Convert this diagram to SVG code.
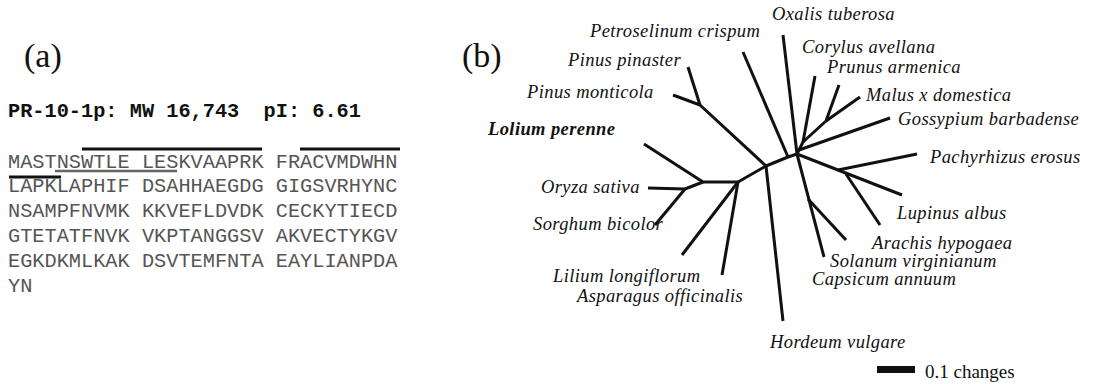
<svg xmlns="http://www.w3.org/2000/svg" width="1097" height="384" viewBox="0 0 1097 384">
<style>
.pl{font-family:"Liberation Serif","Times New Roman",serif;font-size:34px;fill:#111}
.hd{font-family:"Liberation Mono","Courier New",monospace;font-weight:bold;font-size:20.3px;fill:#111}
.sq{font-family:"Liberation Mono","Courier New",monospace;font-size:20.3px;fill:#555}
.lab{font-family:"Liberation Serif","Times New Roman",serif;font-style:italic;font-size:18.5px;letter-spacing:0.4px;fill:#111}
.bold{font-weight:bold}
.sc{font-family:"Liberation Serif","Times New Roman",serif;font-size:19px;fill:#111}
.br{stroke:#111;stroke-width:3;fill:none;stroke-linecap:butt;stroke-linejoin:round}
.ov{stroke:#111;stroke-width:3}
.ul{stroke:#666;stroke-width:2.5}
</style>
<rect width="1097" height="384" fill="#fff"/>
<g id="panel-a">
<text class="pl" x="24" y="67">(a)</text>
<text class="hd" x="8" y="117" xml:space="preserve">PR-10-1p: MW 16,743  pI: 6.61</text>
<g id="sequence">
<text class="sq" x="8" y="168">MASTNSWTLE LESKVAAPRK FRACVMDWHN</text>
<text class="sq" x="8" y="192">LAPKLAPHIF DSAHHAEGDG GIGSVRHYNC</text>
<text class="sq" x="8" y="217">NSAMPFNVMK KKVEFLDVDK CECKYTIECD</text>
<text class="sq" x="8" y="242">GTETATFNVK VKPTANGGSV AKVECTYKGV</text>
<text class="sq" x="8" y="267">EGKDKMLKAK DSVTEMFNTA EAYLIANPDA</text>
<text class="sq" x="8" y="292">YN</text>
</g>
<g id="marks">
<line class="ov" x1="82" y1="149" x2="262" y2="149"/>
<line class="ov" x1="300" y1="149" x2="400" y2="149"/>
<line class="ov" x1="9" y1="177" x2="61" y2="177"/>
<line class="ul" x1="55" y1="171" x2="177" y2="171"/>
</g>
</g>
<g id="panel-b">
<text class="pl" x="462" y="67">(b)</text>
<g id="connectors">
<polyline class="br" points="738,182 766,166 788,157 797,154"/>
<line class="br" x1="766" y1="166" x2="700" y2="105"/>
<line class="br" x1="700" y1="105" x2="688" y2="67"/>
<line class="br" x1="700" y1="105" x2="673" y2="95"/>
<line class="br" x1="788" y1="157" x2="743" y2="52"/>
<line class="br" x1="797" y1="154" x2="783" y2="35"/>
<line class="br" x1="766" y1="166" x2="783" y2="321"/>
<polyline class="br" points="738,182 703,182 644,144"/>
<line class="br" x1="703" y1="182" x2="685" y2="189"/>
<line class="br" x1="685" y1="189" x2="648" y2="188"/>
<line class="br" x1="685" y1="189" x2="655" y2="225"/>
<line class="br" x1="738" y1="182" x2="682" y2="255"/>
<line class="br" x1="738" y1="182" x2="722" y2="275"/>
<polyline class="br" points="797,154 803,142 826,121 839,85"/>
<line class="br" x1="826" y1="121" x2="860" y2="97"/>
<line class="br" x1="803" y1="142" x2="815" y2="76"/>
<line class="br" x1="799" y1="150" x2="890" y2="118"/>
<line class="br" x1="797" y1="154" x2="902" y2="195"/>
<line class="br" x1="838" y1="170" x2="917" y2="154"/>
<line class="br" x1="846" y1="174" x2="880" y2="225"/>
<line class="br" x1="797" y1="154" x2="824" y2="257"/>
<line class="br" x1="808" y1="199" x2="846" y2="240"/>
</g>
<g id="n-oxalis"><text class="lab" x="772" y="20">Oxalis tuberosa</text></g>
<g id="n-petroselinum"><text class="lab" x="590" y="37">Petroselinum crispum</text></g>
<g id="n-corylus"><text class="lab" x="802" y="53">Corylus avellana</text></g>
<g id="n-prunus"><text class="lab" x="827" y="73">Prunus armenica</text></g>
<g id="n-malus"><text class="lab" x="866" y="101">Malus x domestica</text></g>
<g id="n-gossypium"><text class="lab" x="898" y="125">Gossypium barbadense</text></g>
<g id="n-pachyrhizus"><text class="lab" x="930" y="163">Pachyrhizus erosus</text></g>
<g id="n-pinaster"><text class="lab" x="568" y="66">Pinus pinaster</text></g>
<g id="n-monticola"><text class="lab" x="527" y="98">Pinus monticola</text></g>
<g id="n-lolium"><text class="lab bold" x="488" y="135">Lolium perenne</text></g>
<g id="n-oryza"><text class="lab" x="541" y="193">Oryza sativa</text></g>
<g id="n-sorghum"><text class="lab" x="533" y="230">Sorghum bicolor</text></g>
<g id="n-lilium"><text class="lab" x="553" y="282">Lilium longiflorum</text></g>
<g id="n-asparagus"><text class="lab" x="577" y="302">Asparagus officinalis</text></g>
<g id="n-lupinus"><text class="lab" x="897" y="219">Lupinus albus</text></g>
<g id="n-arachis"><text class="lab" x="872" y="249">Arachis hypogaea</text></g>
<g id="n-solanum"><text class="lab" x="830" y="267">Solanum virginianum</text></g>
<g id="n-capsicum"><text class="lab" x="812" y="285">Capsicum annuum</text></g>
<g id="n-hordeum"><text class="lab" x="770" y="348">Hordeum vulgare</text></g>
<g id="scale">
<rect x="877" y="366" width="38" height="7" fill="#111"/>
<text class="sc" x="925" y="378">0.1 changes</text>
</g>
</g>
</svg>
